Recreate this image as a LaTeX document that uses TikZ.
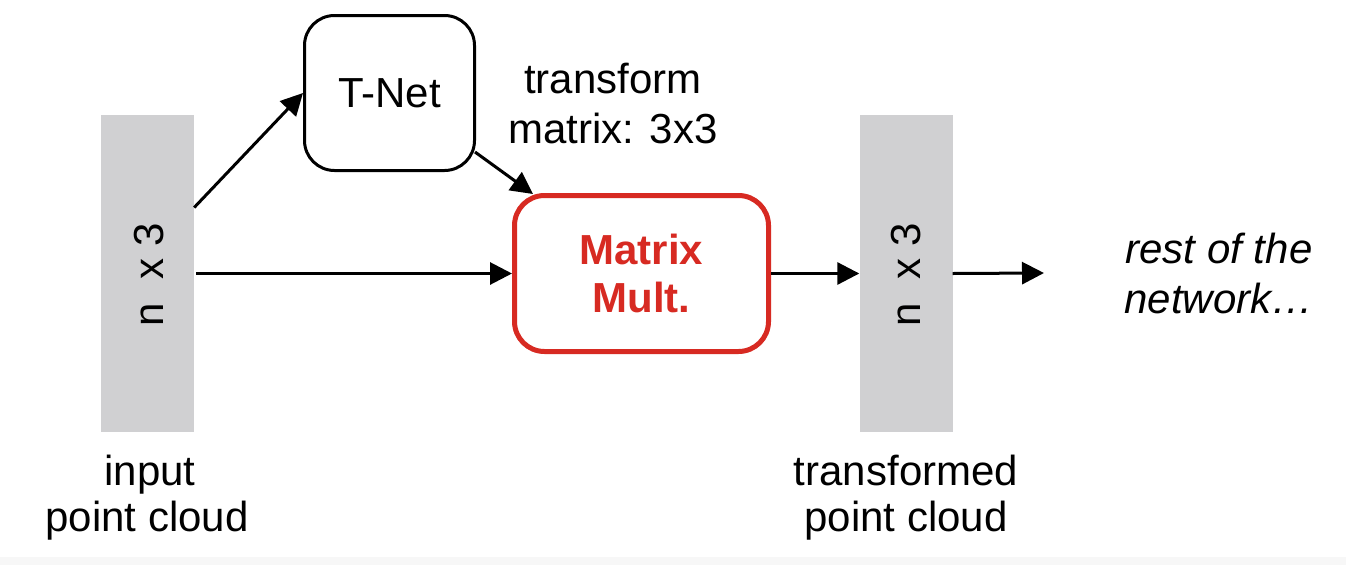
\documentclass[tikz,border=0pt]{standalone}
\usepackage{fontspec}
\setmainfont{Liberation Sans}
\usetikzlibrary{arrows.meta,calc}
\definecolor{barg}{HTML}{D0D0D2}
\definecolor{mred}{HTML}{D72A22}
\definecolor{bgstrip}{HTML}{F7F7F7}
\begin{document}
\begin{tikzpicture}[x=1pt,y=-1pt,
  txt/.style={inner sep=0pt,anchor=base,font=\fontsize{42}{50}\selectfont},
  bar/.style={fill=barg,draw=none,minimum width=93pt,minimum height=317pt,inner sep=0pt},
  tbox/.style={draw=black,line width=3pt,rounded corners=30pt,minimum width=170pt,minimum height=155pt,inner sep=0pt,font=\fontsize{42}{50}\selectfont},
  mbox/.style={draw=mred,line width=5pt,rounded corners=30pt,minimum width=254pt,minimum height=156pt,inner sep=0pt,text=mred,font=\fontsize{42}{50}\selectfont\bfseries,align=center},
  arr/.style={line width=3pt,-{Triangle[length=22pt,width=22pt]}}]
\useasboundingbox (0,0) rectangle (1346,565);
\fill[bgstrip] (0,557) rectangle (1346,565);
\node[bar] (inbar) at (147.5,273.5) {};
\node[bar] (outbar) at (906,273.5) {};
\node[rotate=90,inner sep=0pt,font=\fontsize{42}{50}\selectfont] (inlab) at (149,275) {n\hspace{12pt} x 3};
\node[rotate=90,inner sep=0pt,font=\fontsize{42}{50}\selectfont] (outlab) at (906,275) {n\hspace{12pt} x 3};
\node[tbox] (tnet) at (389.5,93) {T-Net};
\node[mbox] (mm) at (641.5,273.5) {Matrix\\[-2pt]Mult.};
\node[txt] (tm1) at (613,93) {transform};
\node[txt] (tm2) at (613,143) {matrix: 3x3};
\node[txt] (in1) at (150,485) {input};
\node[txt] (in2) at (147,531) {point cloud};
\node[txt] (tr1) at (906,485) {transformed};
\node[txt] (tr2) at (906,531) {point cloud};
\node[txt,font=\fontsize{42}{50}\selectfont\itshape] (r1) at (1219,263) {rest of the};
\node[txt,font=\fontsize{42}{50}\selectfont\itshape] (r2) at (1219,313) {network\dots};
\coordinate (endr) at (1044,273);
\draw[arr] ([yshift=66pt]inbar.east) -- ([yshift=0pt]tnet.west);
\draw[arr] ([xshift=2pt]inbar.east) -- (mm.west);
\draw[arr] ([xshift=-1pt,yshift=20pt]tnet.south east) -- ([xshift=21pt,yshift=-1pt]mm.north west);
\draw[arr] (mm.east) -- (outbar.west);
\draw[arr] (outbar.east) -- (endr);
\end{tikzpicture}
\end{document}
